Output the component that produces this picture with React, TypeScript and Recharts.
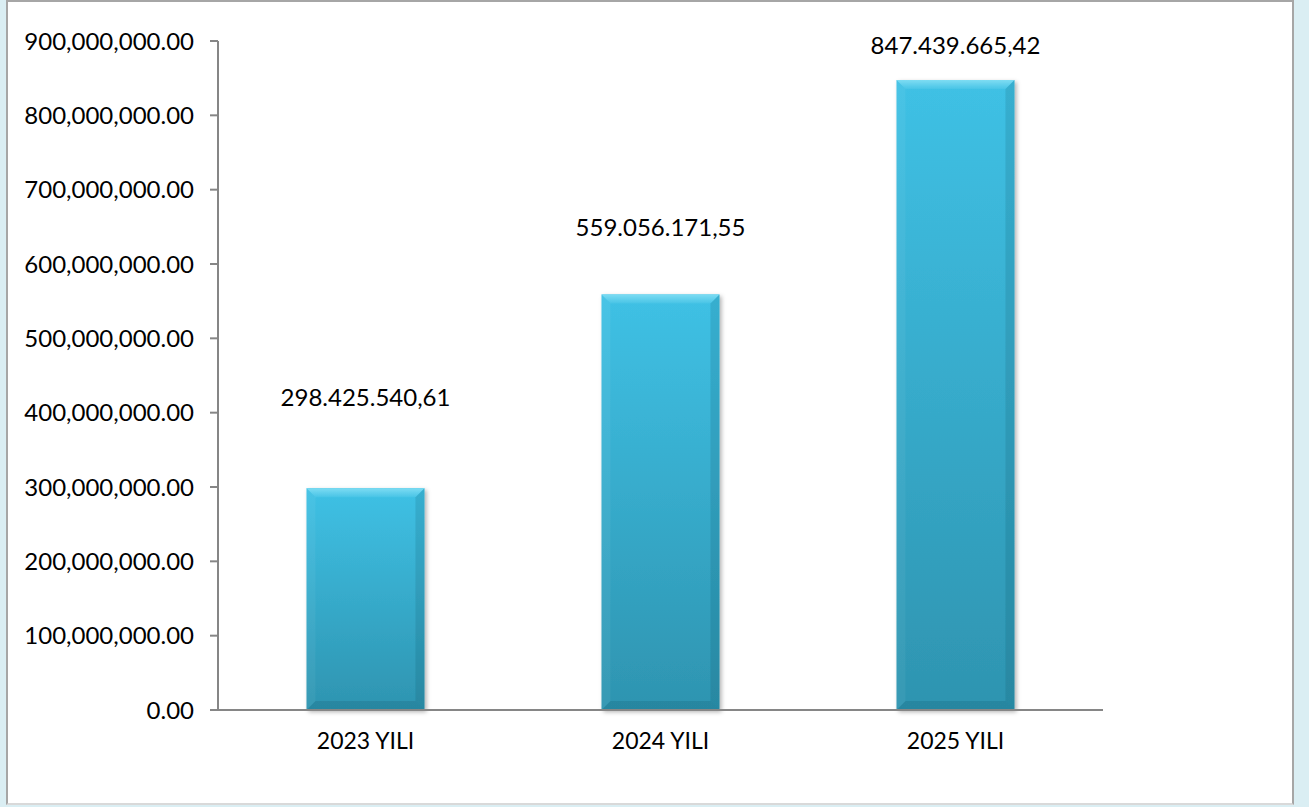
import { BarChart, Bar, XAxis, YAxis, LabelList } from "recharts";

const categories = ["2023 YILI", "2024 YILI", "2025 YILI"];
const values = [298425540.61, 559056171.55, 847439665.42];
const yTicks = [0, 100000000, 200000000, 300000000, 400000000, 500000000, 600000000, 700000000, 800000000, 900000000];

const data = categories.map((yil, i) => ({ yil, tutar: values[i] }));

// how far above the bar top each Excel label sits (label layout, not data)
const labelLift = [92, 68, 36];

const FONT = "Lato, 'Open Sans', sans-serif";

const group = (s: string) => s.replace(/\B(?=(\d{3})+(?!\d))/g, ",");

const fmtTick = (v: number) => group(Math.floor(v).toString()) + ".00";

const fmtTr = (v: number) => {
  const [ent, dec] = v.toFixed(2).split(".");
  return ent.replace(/\B(?=(\d{3})+(?!\d))/g, ".") + "," + dec;
};

const BevelBar = (props: any) => {
  const { x, y, width, height } = props;
  if (!height || height <= 0) return null;
  const b = 9;
  return (
    <g filter="url(#barShadow)">
      <rect x={x} y={y} width={width} height={height} fill="url(#barFill)" />
      {/* top bevel */}
      <polygon points={`${x},${y} ${x + width},${y} ${x + width - b},${y + b} ${x + b},${y + b}`} fill="url(#topBevel)" />
      {/* left bevel */}
      <polygon points={`${x},${y} ${x + b},${y + b} ${x + b},${y + height - b} ${x},${y + height}`} fill="#ffffff" fillOpacity={0.05} />
      {/* right bevel */}
      <polygon points={`${x + width},${y} ${x + width},${y + height} ${x + width - b},${y + height - b} ${x + width - b},${y + b}`} fill="#0a3e50" fillOpacity={0.14} />
      {/* bottom bevel */}
      <polygon points={`${x},${y + height} ${x + width},${y + height} ${x + width - b},${y + height - b} ${x + b},${y + height - b}`} fill="#0a3e50" fillOpacity={0.16} />
    </g>
  );
};

const TopLabel = (props: any) => {
  const { x, y, width, index, value } = props;
  return (
    <text
      x={x + width / 2}
      y={y - labelLift[index]}
      textAnchor="middle"
      dominantBaseline="central"
      fontFamily={FONT}
      fontSize={24}
      fill="#000"
    >
      {fmtTr(value)}
    </text>
  );
};

export default function App() {
  return (
    <div style={{ position: "absolute", left: 0, top: 0, width: 1309, height: 807, background: "#daeef3" }}>
      <div
        style={{
          position: "absolute",
          left: 6,
          top: 0,
          width: 1288,
          height: 805,
          background: "#fff",
          borderLeft: "2px solid #a6a6a6",
          borderRight: "2px solid #a6a6a6",
          borderTop: "2px solid #a6a6a6",
          borderBottom: "2px solid #d9d9d9",
          boxSizing: "border-box",
        }}
      />
      <div style={{ position: "absolute", left: 0, top: 0 }}>
        <BarChart
          width={1309}
          height={807}
          data={data}
          margin={{ top: 41, right: 206, bottom: 67, left: 0 }}
          barCategoryGap="30%"
        >
          <defs>
            <linearGradient id="barFill" x1="0" y1="0" x2="0" y2="1">
              <stop offset="0%" stopColor="#3fc1e5" />
              <stop offset="100%" stopColor="#2e94b0" />
            </linearGradient>
            <linearGradient id="topBevel" x1="0" y1="0" x2="0" y2="1">
              <stop offset="0%" stopColor="#7ddcf3" />
              <stop offset="100%" stopColor="#48c4e6" />
            </linearGradient>
            <filter id="barShadow" x="-10%" y="-10%" width="130%" height="130%">
              <feDropShadow dx="2" dy="2" stdDeviation="2" floodColor="#000" floodOpacity="0.3" />
            </filter>
          </defs>
          <XAxis
            dataKey="yil"
            axisLine={{ stroke: "#868686", strokeWidth: 2 }}
            tickLine={false}
            tickMargin={17}
            tick={{ fill: "#000", fontFamily: FONT, fontSize: 23 }}
          />
          <YAxis
            width={218}
            domain={[0, 900000000]}
            ticks={yTicks}
            interval={0}
            tickFormatter={fmtTick}
            axisLine={{ stroke: "#868686", strokeWidth: 2 }}
            tickLine={{ stroke: "#868686", strokeWidth: 2 }}
            tickSize={8}
            tickMargin={16}
            tick={{ fill: "#000", fontFamily: FONT, fontSize: 24 }}
          />
          <Bar dataKey="tutar" shape={<BevelBar />} isAnimationActive={false}>
            <LabelList dataKey="tutar" content={<TopLabel />} />
          </Bar>
        </BarChart>
      </div>
    </div>
  );
}
